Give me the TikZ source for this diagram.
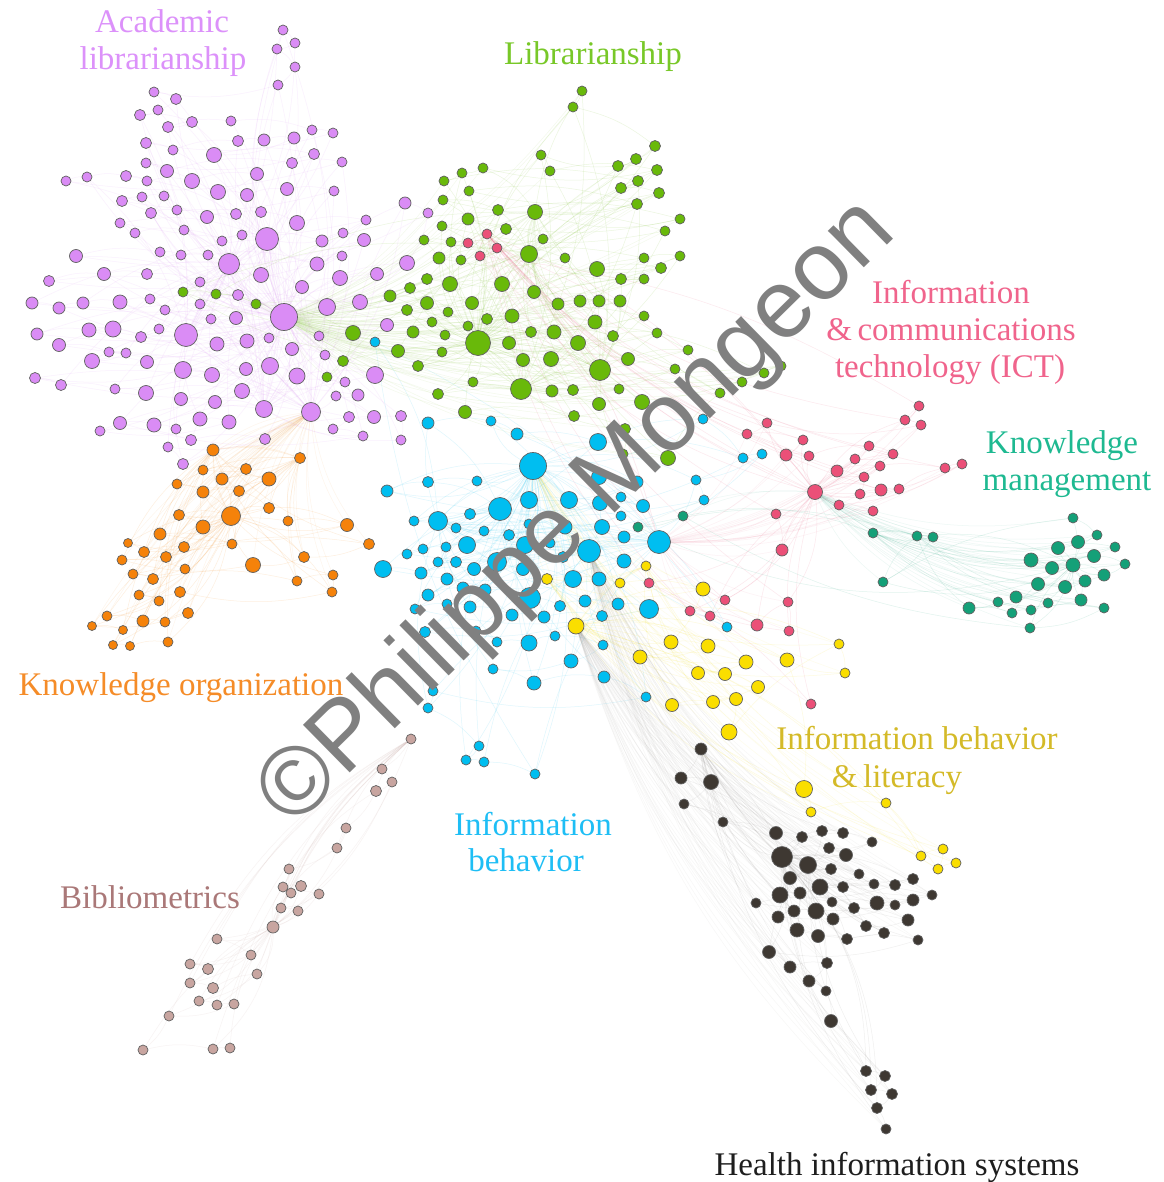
\documentclass[tikz,border=0pt]{standalone}
\usepackage{fontspec}
\setmainfont{Liberation Serif}
\newfontfamily\wmfont{Liberation Sans}
\pgfdeclarelayer{bg}
\pgfdeclarelayer{edges}
\pgfsetlayers{bg,edges,main}
\definecolor{cPu}{RGB}{218,140,245}
\definecolor{cGr}{RGB}{105,185,10}
\definecolor{cBl}{RGB}{0,190,240}
\definecolor{cPi}{RGB}{235,80,120}
\definecolor{cTe}{RGB}{20,160,120}
\definecolor{cOr}{RGB}{245,130,10}
\definecolor{cYe}{RGB}{250,222,0}
\definecolor{cBk}{RGB}{62,56,50}
\definecolor{cBr}{RGB}{200,165,160}
\definecolor{lPu}{RGB}{220,145,250}
\definecolor{lGr}{RGB}{120,200,40}
\definecolor{lPi}{RGB}{240,100,140}
\definecolor{lTe}{RGB}{30,185,145}
\definecolor{lOr}{RGB}{245,140,40}
\definecolor{lYe}{RGB}{212,186,40}
\definecolor{lBl}{RGB}{30,190,245}
\definecolor{lBr}{RGB}{170,120,120}
\definecolor{lBk}{RGB}{30,30,30}
\definecolor{wmgray}{RGB}{128,128,128}
\tikzset{
  dot/.style={circle,draw=black!62,line width=0.7pt,inner sep=0pt},
  edge/.style={line width=0.5pt,opacity=0.13},
  xedge/.style={line width=0.5pt,opacity=0.08},
  lbl/.style={font=\fontsize{33}{37}\selectfont,anchor=base,inner sep=0pt},
  wm/.style={font=\wmfont\fontsize{97}{97}\selectfont,text=wmgray,inner sep=0pt}
}
\def\pulist{284/317/13,311/412/9,229/264/10,186/335/11,267/239/11,264/409/8,
283/30/4.5,295/43/4.5,277/49/4.5,295/67/4.5,278/85/4.5,
154/92/4.5,176/99/5,158/110/4.5,140/115/5,192/122/5,168/127/5,231/121/4.5,312/130/4.5,333/133/4.5,
146/143/5,173/150/4.5,238/141/5,264/140/5.5,294/138/5.5,214/155/7,314/154/5,146/163/4.5,167/171/6,292/163/5,342/162/4.5,
66/181/4.5,87/177/4.5,126/176/5,147/181/4.5,192/181/7,257/174/6,218/192/7,247/195/6,287/189/6,334/191/4.5,
122/201/5,142/197/4.5,164/196/4.5,151/213/5,177/210/4.5,207/217/6,236/214/5,261/212/5,297/223/7,366/220/4.5,
120/223/4.5,135/233/4.5,184/230/4.5,222/241/4.5,242/235/4.5,322/241/5.5,343/233/4.5,364/240/6,
76/256/6,160/252/4.5,181/255/4.5,208/255/4.5,317/264/6.5,342/256/4.5,
49/281/5,104/274/6,147/274/5,200/282/4.5,261/275/7,302/287/6,340/278/7,377/274/6,
32/303/5.5,59/308/5.5,83/303/5.5,120/302/6.5,150/299/4.5,165/310/4.5,200/304/4.5,238/295/5,327/307/8,360/302/7,
37/334/5.5,89/330/6.5,113/329/7.5,141/337/5,159/329/4.5,211/319/4.5,236/318/6,217/344/6.5,247/341/6.5,269/338/4.5,319/336/4.5,387/325/6,
59/345/6,109/352/4.5,126/353/4.5,92/361/7,147/362/6,292/349/6,325/355/4.5,
183/370/8,212/375/7,246/369/6,270/366/8,297/376/7.5,375/375/8,
35/378/5,61/385/5,115/389/4.5,146/393/7,242/391/7,345/382/4.5,
405/203/5.5,428/213/4.5,407/263/7,
181/399/6,215/402/6,358/395/5.5,336/396/4.5,374/417/6,349/417/5,333/429/4.5,363/436/4.5,
120/423/6,154/425/6.5,176/429/4.5,200/419/6.5,229/422/6.5,100/431/4.5,191/440/5,265/439/5,168/447/4.5,183/464/5,
401/416/5,401/440/4.5}
\def\grlist{478/343/12,521/389/10,600/370/10,529/254/8,535/212/7,
582/91/4.5,573/107/4.5,655/146/5,636/159/5,618/166/5,541/155/4.5,550/171/4.5,657/170/5,483/168/4.5,462/173/4.5,444/181/4.5,638/181/5,621/188/5,659/193/5,469/191/4.5,637/204/5,443/200/4.5,498/210/5,680/219/4.5,468/219/5.5,665/231/4.5,442/226/4.5,506/229/5,543/239/4.5,424/240/4.5,451/242/4.5,
565/258/4.5,439/258/5.5,461/260/4.5,644/258/4.5,680/256/4.5,597/269/7,661/268/5,427/279/5,450/284/7,502/284/7,621/279/5,644/279/4.5,534/292/6,410/288/5,390/296/5.5,427/303/6,472/303/6,558/304/5.5,580/301/5.5,599/301/5.5,620/301/5.5,407/310/5,448/312/4.5,512/316/6.5,644/316/4.5,432/322/4.5,487/319/5,595/322/6.5,468/326/4.5,413/332/5.5,445/335/4.5,531/332/5,554/332/6.5,613/336/5,657/333/4.5,509/343/6,578/343/7,398/351/6,442/352/4.5,523/360/6,551/359/7,628/359/6,688/350/4.5,418/366/5,675/369/4.5,473/382/4.5,552/391/5.5,573/390/5,619/389/4.5,438/394/5,599/404/6,642/402/7,465/412/6,574/416/5,625/429/5,623/454/4.5,668/458/7,720/393/4.5,742/382/4.5,764/373/4.5,781/366/4.5,
183/292/4.5,216/294/4.5,256/304/4.5,353/333/7,343/361/5,327/377/4.5}
\def\pilist{815/492/7,487/234/4.5,468/243/4.5,497/248/4.5,480/256/4.5,
919/406/4.5,905/420/4.5,921/425/4.5,767/423/4.5,747/434/4.5,803/440/4.5,786/455/5.5,809/456/4.5,869/446/4.5,893/454/4.5,855/459/4.5,837/471/5.5,880/466/4.5,864/477/4.5,860/494/4.5,881/490/5.5,899/489/4.5,945/468/4.5,962/464/4.5,839/505/4.5,873/511/4.5,776/514/4.5,782/550/5.5,725/600/4.5,710/616/4.5,690/611/4.5,757/625/5.5,788/602/4.5,789/631/4.5,649/583/4.5,811/704/4.5}
\def\telist{1073/565/6.5,873/533/4.5,917/536/4.5,933/537/4.5,883/582/4.5,1073/518/4.5,1097/535/4.5,1078/542/6,1058/548/6,1115/547/4.5,1031/560/6.5,1052/568/6,1094/556/6,1125/564/4.5,1104/575/5.5,1038/584/6,1065/587/6,1085/581/5.5,1016/597/5.5,1048/603/4.5,1081/600/5.5,998/602/4.5,969/608/5.5,1012/613/4.5,1031/610/4.5,1104/608/4.5,1030/628/4.5,683/516/4.5,638/527/4.5}
\def\bllist{533/466/13,500/509/11,589/551/11,659/542/11,438/521/9,
428/423/5.5,491/421/4.5,517/434/5.5,598/442/8,703/419/4.5,743/458/4.5,762/454/4.5,696/480/4.5,704/500/4.5,387/491/5.5,428/482/5,477/481/4.5,599/477/7,637/482/5.5,529/500/8,569/500/8,600/503/7,643/506/6,621/497/4.5,414/521/4.5,470/514/5,529/524/4.5,565/527/6.5,602/527/7,621/516/4.5,456/528/4.5,484/531/4.5,509/535/5,624/537/5.5,407/554/4.5,423/549/4.5,446/547/4.5,467/545/8,525/545/8,550/543/4.5,438/562/4.5,456/562/5,497/562/9,563/557/5,624/561/6.5,383/569/8,421/573/5.5,474/569/6,523/569/6,573/579/8,599/579/6.5,447/579/5.5,428/595/5.5,463/588/5.5,485/590/5.5,530/598/10,560/606/5,585/601/5.5,618/604/5.5,649/609/9,415/609/4.5,447/604/4.5,470/607/5.5,512/615/5.5,544/617/5.5,602/616/5,425/632/5,476/631/4.5,497/642/4.5,529/643/7.5,555/636/4.5,603/645/4.5,571/661/6.5,493/669/4.5,534/683/6.5,604/677/5.5,646/697/4.5,433/691/4.5,428/708/4.5,479/746/4.5,466/760/4.5,484/762/4.5,535/774/4.5,375/342/4.5,727/627/4.5}
\def\orlist{231/516/9,213/450/5.5,300/458/5,203/470/4.5,246/469/5,222/479/5.5,269/479/6.5,177/484/4.5,203/492/5.5,239/491/5,269/508/5,179/515/5,203/527/6.5,288/521/4.5,347/525/6,160/534/5.5,232/544/4.5,128/543/4,144/552/5,184/547/5,166/557/5,369/544/5,304/557/5,253/565/7,122/560/4.5,185/569/4.5,133/574/4.5,153/579/5,297/581/4.5,333/575/4.5,332/592/4.5,180/592/5,139/595/4.5,159/601/4.5,107/616/4.5,143/621/5.5,165/622/4.5,188/613/5,92/626/4,123/630/4,113/645/4,130/646/4,168/642/4.5}
\def\yelist{576/626/7.5,646/566/4.5,547/579/5,620/583/4.5,703/589/6.5,671/642/6.5,708/646/6.5,640/657/6.5,746/662/6.5,698/673/6,725/674/6,758/687/6,672/705/6,713/702/6,736/699/6,729/732/7.5,839/644/4.5,845/673/4.5,787/660/6.5,804/789/8,811/812/4.5,886/803/4.5,921/856/4.5,943/849/4.5,938/869/4.5,956/863/4.5}
\def\bklist{782/857/10,808/865/8,
701/749/5.5,681/778/5.5,711/782/7,684/804/4.5,723/822/4.5,776/833/6,802/837/5,822/831/5,843/833/5,872/842/4.5,829/848/5,846/855/6,790/878/6,831/869/5,859/874/4.5,820/887/7.5,843/887/5,874/884/4.5,895/885/5,913/879/5,780/895/7.5,800/893/5.5,932/895/4.5,756/903/4.5,832/902/4.5,877/903/6.5,895/905/4.5,913/900/5.5,778/917/5.5,794/911/5.5,816/911/7.5,833/919/5.5,854/908/5,908/920/5.5,866/926/5,884/933/5,797/930/6.5,818/936/6,847/939/5,918/940/4.5,769/952/6,790/967/5.5,827/963/5,809/981/5.5,826/991/4.5,831/1021/6,866/1071/5,885/1076/5,871/1090/5,892/1094/5,877/1108/5,886/1129/4.5}
\def\brlist{273/927/5.5,411/739/4.5,382/769/4.5,392/782/4.5,376/791/5,346/828/4.5,337/848/4.5,289/869/4.5,283/887/4.5,301/886/5,291/893/4.5,319/894/4.5,281/908/4.5,298/911/4.5,217/939/4.5,251/955/4.5,190/964/4.5,208/969/5,190/983/4.5,213/988/5,257/974/4.5,199/1001/4.5,217/1005/4.5,234/1004/4.5,169/1016/4.5,143/1050/4.5,213/1049/4.5,230/1048/4.5}
% nodes of one cluster: prefix, colour, list
\newcommand\drawcluster[3]{%
  \foreach \x/\y/\r [count=\i] in #3 {\node[dot,fill=#2,minimum size={2*\r pt+1pt}] (#1\i) at (\x,\y) {};}}
% edges inside one cluster: prefix, colour, list, number of hubs
\newcommand\clusteredges[4]{%
  \foreach \x/\y/\r [count=\i] in #3 {%
    \pgfmathtruncatemacro\hh{mod(\i,#4)+1}%
    \ifnum\hh=\i\else \draw[edge,#2] (#1\i) to[bend left=15] (#1\hh);\fi
    \ifnum\i>1
      \pgfmathtruncatemacro\jj{\i-1}%
      \draw[edge,#2] (#1\i) to[bend right=12] (#1\jj);
    \fi
    \ifnum\i>3 \ifodd\i \draw[edge,#2] (#1\i) to[bend right=20] (#11); \fi\fi}}
% edges from one cluster to a hub node of another
\newcommand\crossedges[4]{%
  \foreach \x/\y/\r [count=\i] in #3 {\draw[xedge,#2] (#1\i) to[bend left=14] (#4);}}
\begin{document}
\begin{tikzpicture}[x=1pt,y=-1pt]
\begin{pgfonlayer}{bg}
\fill[white] (0,0) rectangle (1163,1182);
\end{pgfonlayer}
\useasboundingbox (0,0) rectangle (1163,1182);
\drawcluster{br}{cBr}{\brlist}
\drawcluster{bk}{cBk}{\bklist}
\drawcluster{te}{cTe}{\telist}
\drawcluster{pi}{cPi}{\pilist}
\drawcluster{ye}{cYe}{\yelist}
\drawcluster{or}{cOr}{\orlist}
\drawcluster{pu}{cPu}{\pulist}
\drawcluster{gr}{cGr}{\grlist}
\drawcluster{bu}{cBl}{\bllist}
\begin{pgfonlayer}{edges}
\clusteredges{pu}{cPu}{\pulist}{6}
\clusteredges{gr}{cGr}{\grlist}{5}
\clusteredges{bu}{cBl}{\bllist}{5}
\clusteredges{pi}{cPi}{\pilist}{2}
\clusteredges{te}{cTe}{\telist}{3}
\clusteredges{or}{cOr}{\orlist}{3}
\clusteredges{ye}{cYe}{\yelist}{3}
\clusteredges{bk}{cBk!60}{\bklist}{3}
\clusteredges{br}{cBr}{\brlist}{2}
\crossedges{bk}{cBk!50}{\bklist}{bu3}
\crossedges{bk}{cBk!50}{\bklist}{ye1}
\crossedges{ye}{cYe}{\yelist}{bu1}
\crossedges{pi}{cPi}{\pilist}{bu4}
\crossedges{te}{cTe}{\telist}{pi1}
\crossedges{or}{cOr}{\orlist}{pu2}
\crossedges{gr}{cGr}{\grlist}{pu1}
\end{pgfonlayer}
% labels
\node[lbl,text=lPu] (lacad1) at (162,33) {Academic};
\node[lbl,text=lPu] (lacad2) at (163,70) {librarianship};
\node[lbl,text=lGr] (llib) at (593,65) {Librarianship};
\node[lbl,text=lPi] (lict1) at (951,303) {Information};
\node[lbl,text=lPi] (lict2) at (951,340) {\&\,communications};
\node[lbl,text=lPi] (lict3) at (950,377) {technology (ICT)};
\node[lbl,text=lTe] (lkm1) at (1062,453) {Knowledge};
\node[lbl,text=lTe] (lkm2) at (1067,490) {management};
\node[lbl,text=lOr] (lko) at (181,695) {Knowledge organization};
\node[lbl,text=lYe] (libl1) at (917,749) {Information behavior};
\node[lbl,text=lYe] (libl2) at (897,787) {\&\,literacy};
\node[lbl,text=lBl] (lib1) at (533,835) {Information};
\node[lbl,text=lBl] (lib2) at (526,871) {behavior};
\node[lbl,text=lBr] (lbib) at (150,908) {Bibliometrics};
\node[lbl,text=lBk] (lhis) at (897,1175) {Health information systems};
% watermark
\node[wm,rotate=44.5] (wmark) at (578,514) {©Philippe Mongeon};
\end{tikzpicture}
\end{document}
